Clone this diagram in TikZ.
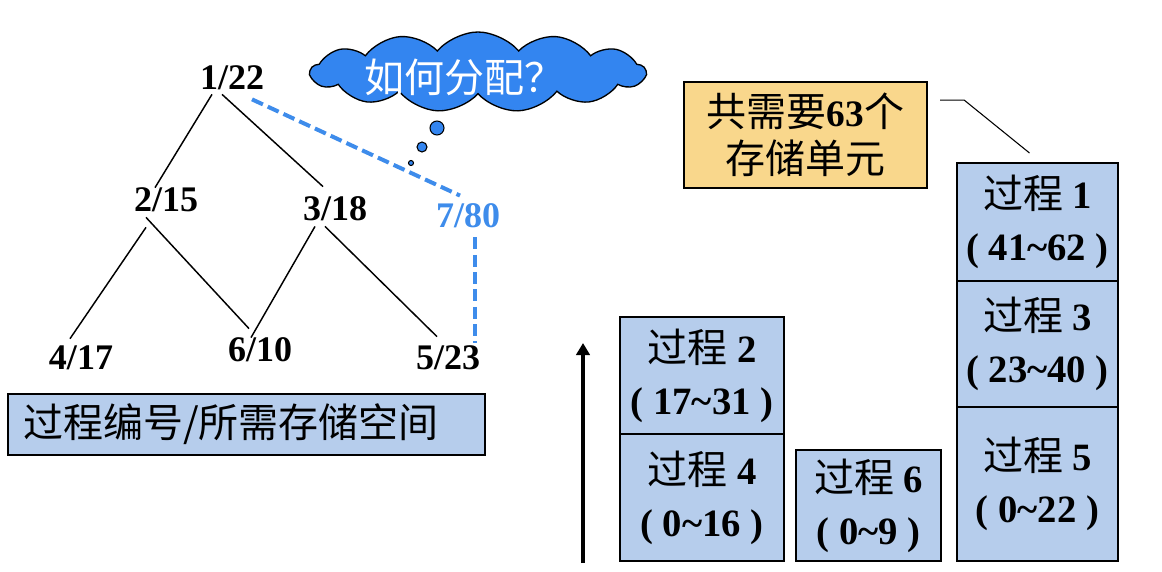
\documentclass[tikz,border=0pt]{standalone}
\usepackage{fontspec}
\setmainfont{Liberation Serif}
\newfontfamily\cjk{Noto Sans CJK SC}
\usepackage{xcolor}
\usepackage{tikz}
\usetikzlibrary{shapes.symbols, arrows.meta, positioning, calc}
\definecolor{boxblue}{RGB}{182,205,236}
\definecolor{boxorange}{RGB}{249,215,140}
\definecolor{cloudblue}{RGB}{51,133,240}
\definecolor{dashblue}{RGB}{62,140,235}
\newcommand{\zh}[1]{{\cjk\mdseries\fontsize{30}{39}\selectfont #1}}
\tikzset{
  tlabel/.style={inner sep=0pt, font=\fontsize{27}{27}\selectfont\bfseries},
  tedge/.style={draw=black, line width=1.1pt},
  dedge/.style={draw=dashblue, line width=3pt, dash pattern=on 9pt off 4pt},
  pbox/.style={rectangle, draw=black, line width=1.6pt, fill=boxblue,
    align=center, inner sep=0pt, outer sep=0pt, minimum width=123pt,
    font=\fontsize{29}{39}\selectfont\bfseries},
  rbox/.style={pbox, minimum width=120.75pt},
  needbox/.style={rectangle, draw=black, line width=1.6pt, fill=boxorange,
    align=center, inner sep=0pt, minimum width=182.25pt, minimum height=79.5pt,
    font=\fontsize{28}{35}\selectfont\bfseries},
  keybox/.style={rectangle, draw=black, line width=1.6pt, fill=boxblue,
    text width=335pt, align=left, inner xsep=11pt, inner ysep=0pt,
    minimum width=357.75pt, minimum height=45.75pt},
  bubble/.style={draw=black, line width=0.8pt, fill=cloudblue},
  leader/.style={draw=black, line width=0.8pt},
  upflow/.style={-{Triangle[length=9pt, width=10pt]}, draw=black, line width=2.5pt},
}
\begin{document}
\begin{tikzpicture}[x=0.75pt, y=-0.75pt]
\useasboundingbox (0,0) rectangle (1162,571);

% call tree
\node[tlabel] (n1) at (232,78) {1/22};
\node[tlabel] (n2) at (166,200) {2/15};
\node[tlabel] (n3) at (335,209) {3/18};
\node[tlabel, text=dashblue] (n7) at (468,216) {7/80};
\node[tlabel] (n4) at (81,358) {4/17};
\node[tlabel] (n6) at (260,350) {6/10};
\node[tlabel] (n5) at (448,358) {5/23};

\draw[tedge] ($(n1.south)+(-20,4)$) -- ($(n2.north)+(-11,0)$);
\draw[tedge] ($(n1.south)+(-10,4)$) -- ($(n3.north)+(-12,-10)$);
\draw[tedge] ($(n2.south)+(-20,15)$) -- ($(n4.north)+(-11,-7)$);
\draw[tedge] ($(n2.south)+(-20,5)$) -- ($(n6.north)+(-11,-9)$);
\draw[tedge] ($(n3.south)+(-20,5)$) -- ($(n6.north)+(-9,0)$);
\draw[tedge] ($(n3.south)+(-10,5)$) -- ($(n5.north)+(-11,-9)$);
\draw[dedge] ($(n1.south)+(20,9)$) -- ($(n7.north)+(-8,-8)$);
\draw[dedge] ($(n7.south)+(7,9)$) -- ($(n5.north)+(27,-3)$);

\node[keybox, anchor=north west] (key) at (7,393) {\zh{过程编号/所需存储空间}};

% thought cloud
\node[cloud, cloud puffs=13, cloud puff arc=100, cloud ignores aspect,
      draw=black, line width=1pt, fill=cloudblue, minimum width=251pt,
      minimum height=60pt, inner sep=0pt,
      label={[text=white, xshift=-10pt, yshift=-4pt]center:\zh{如何分配？}}]
      (ask) at (478,72) {};
\draw[bubble] (437,128) circle (7);
\draw[bubble] (422,147) circle (5);
\draw[bubble] (411,163) circle (2.5);

% memory layout
\node[pbox, minimum height=95.25pt, anchor=south west] (p4) at (620,561)
  {\zh{过程} 4\\( 0\textasciitilde16 )};
\node[pbox, minimum height=87.75pt, above=0pt of p4] (p2)
  {\zh{过程} 2\\( 17\textasciitilde31 )};
\node[pbox, minimum width=108.75pt, minimum height=83.25pt, anchor=south west]
  (p6) at (796,561) {\zh{过程} 6\\( 0\textasciitilde9 )};
\node[rbox, minimum height=115.5pt, anchor=south west] (p5) at (957,561)
  {\zh{过程} 5\\( 0\textasciitilde22 )};
\node[rbox, minimum height=94.5pt, above=0pt of p5] (p3)
  {\zh{过程} 3\\( 23\textasciitilde40 )};
\node[rbox, minimum height=88.5pt, above=0pt of p3] (p1)
  {\zh{过程} 1\\( 41\textasciitilde62 )};

\node[needbox, anchor=north west] (need) at (683,81)
  {\zh{共需要}63\zh{个}\\\zh{存储单元}};
\draw[leader] ($(need.east)+(12,-35)$) -- ++(24,0) -- ($(p1.north)+(-8,-10)$);

\coordinate (abot) at (583,563);
\coordinate (atop) at (583,343);
\draw[upflow] (abot) -- (atop);
\end{tikzpicture}
\end{document}
